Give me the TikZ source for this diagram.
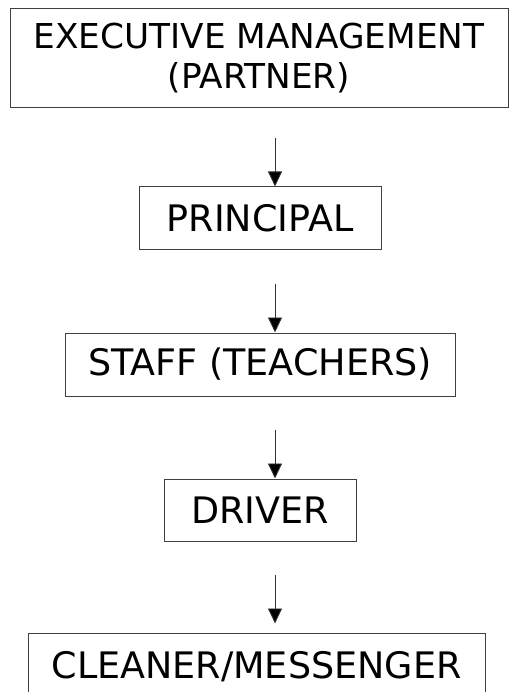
\documentclass[tikz,border=0pt]{standalone}
\usepackage{fontspec}
\setmainfont{DejaVu Sans}
\usetikzlibrary{arrows.meta}

\begin{document}
\begin{tikzpicture}[x=1pt, y=-1pt,
  box/.style={draw=black!75, line width=1pt, inner sep=0pt, align=center,
              font=\fontsize{36.5}{40}\selectfont},
  link/.style={line width=0.9pt, draw=black!80,
               -{Triangle[length=15pt, width=14pt, fill=black]}}]
  \useasboundingbox (0,0) rectangle (508,692);
  \node[box, minimum width=498pt, minimum height=99pt, font=\fontsize{34.3}{40}\selectfont] (exec) at (259,58.5) {EXECUTIVE MANAGEMENT\\(PARTNER)};
  \node[box, minimum width=242pt, minimum height=63pt] (principal) at (260,218.5) {PRINCIPAL};
  \node[box, minimum width=390pt, minimum height=63pt] (staff) at (260,364.5) {STAFF (TEACHERS)};
  \node[box, minimum width=192pt, minimum height=62pt] (driver) at (260,510) {DRIVER};
  \node[box, minimum width=457pt, minimum height=68pt] (cleaner) at (256.5,667) {CLEANER/MESSENGER};
  % free ends of the arrows
  \coordinate (a1) at (275,138);
  \coordinate (a2) at (275,284);
  \coordinate (a3) at (275,430);
  \coordinate (a4) at (275,575);
  \draw[link] (a1) -- (a1 |- principal.north);
  \draw[link] (a2) -- (a2 |- staff.north);
  \draw[link] (a3) -- (a3 |- driver.north);
  \draw[link, shorten >=9pt] (a4) -- (a4 |- cleaner.north);
\end{tikzpicture}
\end{document}
